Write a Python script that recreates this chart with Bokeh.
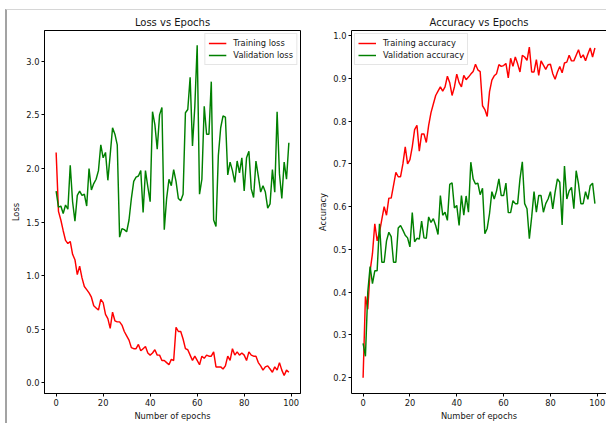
from bokeh.plotting import figure
from bokeh.layouts import row
from bokeh.models import Range1d, FixedTicker, LinearAxis, PrintfTickFormatter
from bokeh.embed import file_html
from bokeh.resources import INLINE

# ---- training history (one value per epoch) ----
epochs = list(range(100))

train_loss = [
    2.15, 1.60, 1.52, 1.42, 1.33, 1.30, 1.32, 1.20, 1.15, 1.01,
    1.09, 0.98, 0.90, 0.87, 0.84, 0.80, 0.72, 0.70, 0.68, 0.78,
    0.75, 0.64, 0.60, 0.51, 0.66, 0.58, 0.57, 0.57, 0.54, 0.48,
    0.44, 0.40, 0.33, 0.32, 0.32, 0.36, 0.30, 0.32, 0.34, 0.28,
    0.26, 0.28, 0.31, 0.26, 0.26, 0.21, 0.21, 0.19, 0.17, 0.22,
    0.21, 0.52, 0.48, 0.48, 0.41, 0.32, 0.31, 0.26, 0.21, 0.25,
    0.21, 0.17, 0.25, 0.23, 0.26, 0.25, 0.25, 0.29, 0.15, 0.15,
    0.15, 0.13, 0.16, 0.25, 0.21, 0.32, 0.26, 0.29, 0.26, 0.28,
    0.26, 0.21, 0.29, 0.26, 0.25, 0.25, 0.19, 0.16, 0.12, 0.15,
    0.16, 0.13, 0.10, 0.15, 0.12, 0.19, 0.12, 0.07, 0.12, 0.10,
]

val_loss = [
    1.79, 1.64, 1.65, 1.58, 1.66, 1.62, 2.03, 1.69, 1.51, 1.75,
    1.79, 1.75, 1.76, 1.65, 2.00, 1.80, 1.86, 1.90, 1.98, 2.22,
    2.10, 2.15, 1.89, 2.13, 2.38, 2.32, 2.22, 1.36, 1.44, 1.43,
    1.41, 1.52, 1.72, 1.88, 1.92, 1.93, 1.98, 1.59, 1.98, 1.83,
    1.69, 2.53, 2.41, 2.18, 2.50, 2.57, 1.43, 1.72, 1.90, 1.84,
    1.99, 1.88, 1.72, 1.70, 1.76, 2.52, 2.55, 2.85, 2.21, 2.58,
    3.15, 1.76, 1.90, 2.58, 2.32, 2.32, 2.81, 1.52, 1.46, 2.12,
    2.38, 2.49, 2.48, 1.94, 2.06, 1.98, 1.87, 2.07, 1.96, 2.10,
    1.79, 2.10, 2.16, 1.81, 1.73, 2.07, 1.93, 1.78, 1.84, 1.78,
    1.63, 1.67, 1.99, 1.78, 2.53, 1.95, 1.72, 2.06, 1.90, 2.24,
]

train_acc = [
    0.200, 0.390, 0.360, 0.450, 0.490, 0.560, 0.520, 0.540, 0.570, 0.600,
    0.580, 0.620, 0.620, 0.650, 0.680, 0.670, 0.670, 0.700, 0.740, 0.700,
    0.710, 0.740, 0.780, 0.790, 0.730, 0.770, 0.770, 0.750, 0.790, 0.820,
    0.840, 0.860, 0.870, 0.880, 0.870, 0.880, 0.905, 0.890, 0.860, 0.880,
    0.910, 0.890, 0.880, 0.907, 0.897, 0.903, 0.910, 0.916, 0.933, 0.920,
    0.916, 0.836, 0.827, 0.811, 0.869, 0.896, 0.906, 0.911, 0.932, 0.928,
    0.930, 0.935, 0.901, 0.947, 0.928, 0.950, 0.934, 0.915, 0.954, 0.950,
    0.942, 0.973, 0.915, 0.915, 0.944, 0.907, 0.941, 0.931, 0.921, 0.932,
    0.933, 0.911, 0.898, 0.915, 0.928, 0.913, 0.936, 0.938, 0.954, 0.941,
    0.941, 0.954, 0.967, 0.948, 0.955, 0.941, 0.957, 0.971, 0.950, 0.971,
]

val_acc = [
    0.280, 0.250, 0.400, 0.460, 0.420, 0.450, 0.450, 0.560, 0.470, 0.470,
    0.520, 0.540, 0.530, 0.470, 0.470, 0.550, 0.556, 0.545, 0.533, 0.527,
    0.506, 0.586, 0.518, 0.526, 0.524, 0.566, 0.527, 0.526, 0.576, 0.563,
    0.572, 0.556, 0.535, 0.626, 0.580, 0.587, 0.568, 0.652, 0.656, 0.597,
    0.603, 0.556, 0.626, 0.580, 0.625, 0.587, 0.704, 0.665, 0.653, 0.655,
    0.628, 0.643, 0.537, 0.549, 0.584, 0.635, 0.618, 0.637, 0.665, 0.626,
    0.626, 0.655, 0.586, 0.586, 0.614, 0.607, 0.607, 0.665, 0.705, 0.607,
    0.595, 0.525, 0.576, 0.635, 0.587, 0.626, 0.626, 0.587, 0.607, 0.618,
    0.635, 0.595, 0.634, 0.665, 0.657, 0.557, 0.695, 0.618, 0.637, 0.645,
    0.595, 0.684, 0.653, 0.607, 0.607, 0.635, 0.617, 0.649, 0.655, 0.607,
]

epoch_ticks = [0, 20, 40, 60, 80, 100]
loss_ticks = [0.0, 0.5, 1.0, 1.5, 2.0, 2.5, 3.0]
acc_ticks = [0.2, 0.3, 0.4, 0.5, 0.6, 0.7, 0.8, 0.9, 1.0]

FONT = "DejaVu Sans"
INK = "#161616"
TRAIN_COLOR = "#ff0000"
VAL_COLOR = "#008000"
LINE_W = 1.45


def style_axis(ax, label, ticks, fmt=None):
    ax.axis_label = label
    ax.ticker = FixedTicker(ticks=ticks)
    if fmt:
        ax.formatter = PrintfTickFormatter(format=fmt)
    ax.axis_line_color = "black"
    ax.axis_line_width = 1
    ax.major_tick_line_color = "black"
    ax.major_tick_out = 3
    ax.major_tick_in = 0
    ax.minor_tick_line_color = None
    ax.major_label_text_font = FONT
    ax.major_label_text_font_size = "8.3px"
    ax.major_label_text_color = INK
    ax.major_label_standoff = 2
    ax.axis_label_text_font = FONT
    ax.axis_label_text_font_size = "8.3px"
    ax.axis_label_text_font_style = "normal"
    ax.axis_label_text_color = INK
    ax.axis_label_standoff = 2


def make_panel(title, ylabel, y_range, yticks, width, border_left, border_right):
    p = figure(width=width, height=413,
               x_range=Range1d(-4.95, 103.95), y_range=y_range,
               output_backend="svg", toolbar_location=None,
               min_border_left=border_left, min_border_right=border_right,
               min_border_top=20, min_border_bottom=26, title=title)
    p.title.align = "center"
    p.title.text_font = FONT
    p.title.text_font_size = "10px"
    p.title.text_font_style = "normal"
    p.title.text_color = INK
    p.title.standoff = 5
    p.grid.visible = False
    p.background_fill_color = "white"
    p.border_fill_color = "white"
    style_axis(p.xaxis[0], "Number of epochs", epoch_ticks)
    style_axis(p.yaxis[0], ylabel, yticks, "%.1f")
    return p


def style_legend(p, location):
    lg = p.legend[0]
    lg.location = location
    lg.margin = 3
    lg.padding = 3
    lg.spacing = 0
    lg.label_height = 12
    lg.glyph_height = 12
    lg.glyph_width = 18
    lg.label_standoff = 7
    lg.label_text_font = FONT
    lg.label_text_font_size = "8.3px"
    lg.label_text_color = INK
    lg.border_line_color = "#cccccc"
    lg.background_fill_color = "white"
    lg.background_fill_alpha = 0.8


# Loss panel
p_loss = make_panel("Loss vs Epochs", "Loss", Range1d(-0.098, 3.287),
                    loss_ticks, width=298, border_left=37, border_right=5)
p_loss.outline_line_color = "black"
p_loss.line(epochs, train_loss, color=TRAIN_COLOR, line_width=LINE_W,
            legend_label="Training loss")
p_loss.line(epochs, val_loss, color=VAL_COLOR, line_width=LINE_W,
            legend_label="Validation loss")
style_legend(p_loss, "top_right")

# Accuracy panel (its right edge runs off the page, so only top/left/bottom spines)
p_acc = make_panel("Accuracy vs Epochs", "Accuracy", Range1d(0.163, 1.012),
                   acc_ticks, width=301, border_left=46, border_right=0)
p_acc.outline_line_color = None
top_spine = LinearAxis(ticker=FixedTicker(ticks=[]), axis_line_color="black",
                       major_tick_out=0, major_tick_in=0, minor_tick_out=0,
                       major_label_text_font_size="0px", major_label_standoff=0)
p_acc.add_layout(top_spine, "above")
p_acc.line(epochs, train_acc, color=TRAIN_COLOR, line_width=LINE_W,
           legend_label="Training accuracy")
p_acc.line(epochs, val_acc, color=VAL_COLOR, line_width=LINE_W,
           legend_label="Validation accuracy")
style_legend(p_acc, "top_left")

layout = row(p_loss, p_acc, styles={
    "margin-left": "5px",
    "margin-top": "9px",
    "border-left": "2px solid #a3a3a3",
    "border-top": "1px solid #d6d6d6",
})

open("out.html", "w").write(file_html(layout, INLINE))
